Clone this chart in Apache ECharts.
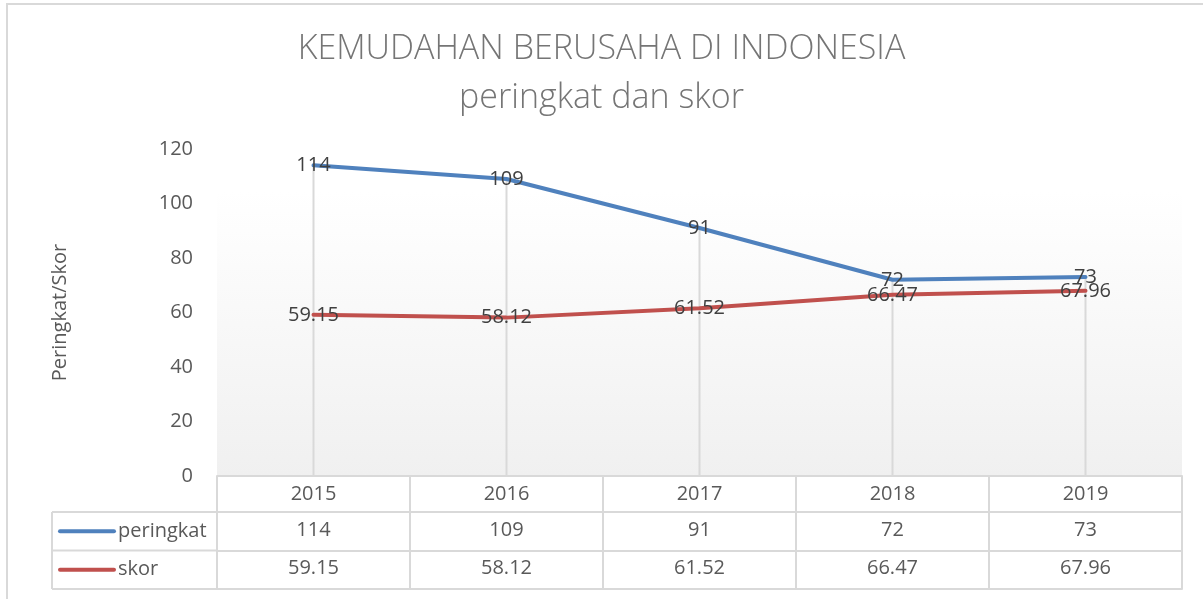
<!DOCTYPE html>
<html>
<head>
<meta charset="utf-8">
<script src="https://cdn.jsdelivr.net/npm/echarts@6/dist/echarts.min.js"></script>
<style>
  html, body { margin: 0; padding: 0; background: #fff; }
  #chart { width: 1203px; height: 599px; }
</style>
</head>
<body>
<div id="chart"></div>
<script>
// data
const years = ['2015', '2016', '2017', '2018', '2019']
const peringkat = [114, 109, 91, 72, 73]
const skor = [59.15, 58.12, 61.52, 66.47, 67.96]
const yTicks = [0, 20, 40, 60, 80, 100, 120]

const FONT = '"Open Sans", "Noto Sans", sans-serif'
const TXT = '#595959'
const BORDER = '#d9d9d9'

// plot area edges (px)
const gLeft = 217, gRight = 1182, gTop = 149, gBottom = 476
// table rows
const rowH = [36, 38.5, 38.5]

const chart = echarts.init(document.getElementById('chart'))

// helper for table axes
function tableAxis(offset, tickLen, formatter, showLabel) {
  return {
    type: 'category',
    data: years,
    position: 'bottom',
    offset: offset,
    boundaryGap: true,
    axisLine: { show: true, lineStyle: { color: BORDER, width: 2 } },
    axisTick: { show: tickLen > 0, inside: false, length: tickLen, interval: 0, lineStyle: { color: BORDER, width: 2 } },
    axisLabel: {
      show: showLabel,
      interval: 0,
      margin: 8,
      fontFamily: FONT,
      fontSize: 20,
      color: TXT,
      formatter: formatter
    },
    splitLine: { show: false }
  }
}

const r1 = rowH[0], r2 = rowH[0] + rowH[1], r3 = rowH[0] + rowH[1] + rowH[2]

const titleStyle = {
  fontFamily: FONT,
  fontWeight: 300,
  fontSize: 34,
  color: '#757575'
}

const option = {
  backgroundColor: '#fff',
  animation: false,
  title: [
    { text: 'KEMUDAHAN BERUSAHA DI INDONESIA', left: 'center', top: 32, padding: 0, textStyle: titleStyle },
    { text: 'peringkat dan skor', left: 'center', top: 81, padding: 0, textStyle: titleStyle }
  ],
  grid: {
    left: gLeft,
    right: 1203 - gRight,
    top: gTop,
    bottom: 599 - gBottom,
    show: true,
    borderWidth: 0,
    backgroundColor: {
      type: 'linear', x: 0, y: 0, x2: 0, y2: 1,
      colorStops: [
        { offset: 0, color: '#ffffff' },
        { offset: 0.13, color: '#ffffff' },
        { offset: 1, color: '#f0f0f0' }
      ]
    }
  },
  xAxis: [
    tableAxis(0, rowH[0], v => v, true),
    tableAxis(r1, rowH[1], (v, i) => String(peringkat[i]), true),
    tableAxis(r2, rowH[2], (v, i) => skor[i].toFixed(2), true),
    tableAxis(r3, 0, v => '', false)
  ],
  yAxis: {
    type: 'value',
    min: yTicks[0],
    max: yTicks[yTicks.length - 1],
    interval: 20,
    name: 'Peringkat/Skor',
    nameLocation: 'middle',
    nameGap: 147,
    nameTextStyle: { fontFamily: FONT, fontSize: 20, color: TXT },
    axisLine: { show: false },
    axisTick: { show: false },
    splitLine: { show: false },
    axisLabel: { margin: 24, fontFamily: FONT, fontSize: 20, color: TXT }
  },
  series: [
    {
      // drop lines from highest point down to 0
      type: 'custom',
      xAxisIndex: 0,
      z: 1,
      silent: true,
      data: years.map((y, i) => [i, Math.max(peringkat[i], skor[i])]),
      renderItem: function (params, api) {
        const top = api.coord([api.value(0), api.value(1)])
        const bot = api.coord([api.value(0), 0])
        return {
          type: 'line',
          shape: { x1: top[0], y1: top[1], x2: bot[0], y2: bot[1] },
          style: { stroke: BORDER, lineWidth: 2 }
        }
      }
    },
    {
      name: 'peringkat',
      type: 'line',
      xAxisIndex: 0,
      z: 3,
      data: peringkat,
      symbol: 'circle',
      symbolSize: 1,
      lineStyle: { color: '#4F81BD', width: 4, cap: 'round' },
      itemStyle: { color: '#4F81BD' },
      label: {
        show: true,
        position: 'inside',
        fontFamily: FONT,
        fontSize: 20,
        color: '#404040'
      }
    },
    {
      name: 'skor',
      type: 'line',
      xAxisIndex: 0,
      z: 3,
      data: skor,
      symbol: 'circle',
      symbolSize: 1,
      lineStyle: { color: '#C0504D', width: 4, cap: 'round' },
      itemStyle: { color: '#C0504D' },
      label: {
        show: true,
        position: 'inside',
        fontFamily: FONT,
        fontSize: 20,
        color: '#404040',
        formatter: p => skor[p.dataIndex].toFixed(2)
      }
    }
  ],
  graphic: [
    // chart frame
    { type: 'rect', shape: { x: 7, y: 4, width: 1220, height: 620 }, style: { fill: 'none', stroke: '#d9d9d9', lineWidth: 2 }, silent: true },
    // row header cells of the data table
    { type: 'line', shape: { x1: 52, y1: gBottom + r1, x2: gLeft, y2: gBottom + r1 }, style: { stroke: BORDER, lineWidth: 2 } },
    { type: 'line', shape: { x1: 52, y1: gBottom + r2, x2: gLeft, y2: gBottom + r2 }, style: { stroke: BORDER, lineWidth: 2 } },
    { type: 'line', shape: { x1: 52, y1: gBottom + r3, x2: gLeft, y2: gBottom + r3 }, style: { stroke: BORDER, lineWidth: 2 } },
    { type: 'line', shape: { x1: 52, y1: gBottom + r1, x2: 52, y2: gBottom + r3 }, style: { stroke: BORDER, lineWidth: 2 } },
    // legend keys
    { type: 'line', shape: { x1: 60, y1: gBottom + r1 + rowH[1] / 2, x2: 114, y2: gBottom + r1 + rowH[1] / 2 }, style: { stroke: '#4F81BD', lineWidth: 4, lineCap: 'round' } },
    { type: 'line', shape: { x1: 60, y1: gBottom + r2 + rowH[2] / 2, x2: 114, y2: gBottom + r2 + rowH[2] / 2 }, style: { stroke: '#C0504D', lineWidth: 4, lineCap: 'round' } },
    { type: 'text', x: 118, y: gBottom + r1 + rowH[1] / 2, style: { text: 'peringkat', font: '20px ' + FONT, fill: TXT, textVerticalAlign: 'middle' } },
    { type: 'text', x: 118, y: gBottom + r2 + rowH[2] / 2, style: { text: 'skor', font: '20px ' + FONT, fill: TXT, textVerticalAlign: 'middle' } }
  ]
}

chart.setOption(option)
window.addEventListener('resize', chart.resize)
</script>
</body>
</html>
